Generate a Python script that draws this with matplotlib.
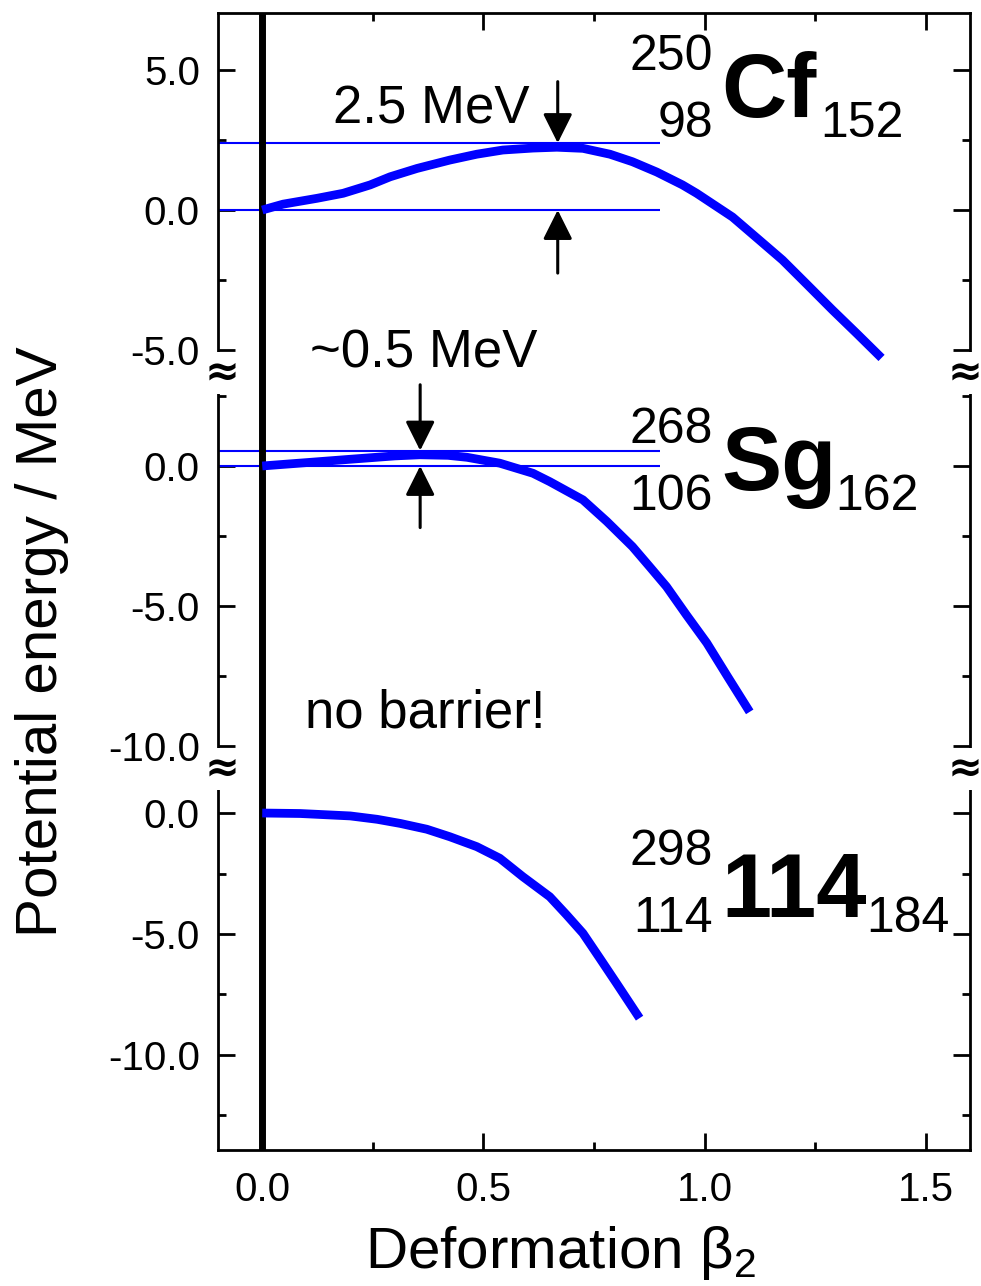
import matplotlib
matplotlib.use('Agg')
import matplotlib.pyplot as plt
from matplotlib.ticker import MultipleLocator, FormatStrFormatter

# Potential energy curves (beta_2, MeV)
beta_cf = [0.0, 0.047, 0.124, 0.183, 0.244, 0.289, 0.350, 0.424, 0.485, 0.544, 0.612, 0.666,
           0.725, 0.786, 0.837, 0.892, 0.950, 0.982, 1.063, 1.124, 1.176, 1.233, 1.289, 1.345, 1.40]
energy_cf = [0.0, 0.21, 0.42, 0.60, 0.90, 1.19, 1.49, 1.79, 2.00, 2.15, 2.22, 2.25,
             2.21, 2.00, 1.73, 1.36, 0.90, 0.60, -0.25, -1.08, -1.79, -2.69, -3.58, -4.44, -5.30]

beta_sg = [0.0, 0.10, 0.199, 0.30, 0.357, 0.42, 0.463, 0.537, 0.612, 0.65, 0.725, 0.779,
           0.837, 0.876, 0.914, 0.959, 1.005, 1.052, 1.102]
energy_sg = [0.0, 0.12, 0.24, 0.36, 0.40, 0.38, 0.31, 0.10, -0.26, -0.56, -1.21, -1.98,
             -2.88, -3.60, -4.31, -5.32, -6.32, -7.52, -8.78]

beta_114 = [0.0, 0.086, 0.199, 0.26, 0.312, 0.372, 0.424, 0.485, 0.537, 0.589, 0.650, 0.688,
            0.725, 0.763, 0.801, 0.853]
energy_114 = [0.0, -0.02, -0.12, -0.26, -0.43, -0.67, -0.98, -1.39, -1.87, -2.63, -3.46, -4.21,
              -4.97, -6.00, -7.04, -8.48]

# barrier markers: (beta at arrow, barrier height)
barrier_cf = (0.668, 2.4)
barrier_sg = (0.357, 0.55)

panel_ylims = [(-5.84, 7.06), (-10.82, 3.32), (-13.93, 1.82)]

W, H = 981, 1286
plt.rcParams['font.family'] = 'Liberation Sans'
plt.rcParams['axes.unicode_minus'] = False
plt.rcParams['mathtext.fontset'] = 'custom'
plt.rcParams['mathtext.rm'] = 'Liberation Sans'
plt.rcParams['mathtext.it'] = 'Liberation Sans'
plt.rcParams['mathtext.default'] = 'regular'


def fx(px):
    return px / W


def fy(py):
    return 1 - py / H


fig = plt.figure(figsize=(W / 100, H / 100), dpi=100)

# panel edges in pixels (top, bottom)
edges = [(13, 373), (373, 769), (769, 1150)]
left_px, right_px = 218, 970
axes = []
for (top, bot), ylim in zip(edges, panel_ylims):
    ax = fig.add_axes([fx(left_px), fy(bot), (right_px - left_px) / W, (bot - top) / H])
    ax.set_xlim(-0.1, 1.6)
    ax.set_ylim(*ylim)
    ax.xaxis.set_major_locator(MultipleLocator(0.5))
    ax.xaxis.set_minor_locator(MultipleLocator(0.25))
    ax.yaxis.set_major_locator(MultipleLocator(5))
    ax.yaxis.set_minor_locator(MultipleLocator(2.5))
    ax.yaxis.set_major_formatter(FormatStrFormatter('%.1f'))
    ax.xaxis.set_major_formatter(FormatStrFormatter('%.1f'))
    for s in ax.spines.values():
        s.set_linewidth(2.0)
    ax.tick_params(which='both', direction='in', left=True, right=True,
                   top=False, bottom=False, labelbottom=False, width=2.0,
                   labelsize=29, pad=13)
    ax.tick_params(which='major', length=12)
    ax.tick_params(which='minor', length=6)
    ax.axvline(0, color='black', lw=5, zorder=3)
    axes.append(ax)

ax_cf, ax_sg, ax_fl = axes
ax_cf.spines['bottom'].set_visible(False)
ax_cf.tick_params(which='both', top=True)
ax_sg.spines['top'].set_visible(False)
ax_sg.spines['bottom'].set_visible(False)
ax_fl.spines['top'].set_visible(False)
ax_fl.tick_params(which='both', bottom=True, labelbottom=True)
ax_fl.tick_params(axis='x', pad=15)

blue = '#0000ff'
curve = dict(color=blue, lw=6.3, solid_capstyle='butt', solid_joinstyle='round', zorder=4)
ax_cf.plot(beta_cf, energy_cf, **curve)
ax_sg.plot(beta_sg, energy_sg, **curve)
ax_fl.plot(beta_114, energy_114, **curve)

arrow = dict(arrowstyle='-|>,head_length=0.5,head_width=0.25', color='black',
             lw=2.2, shrinkA=0, shrinkB=0, mutation_scale=36)
for ax, (bx, h), top_tail, bot_tail in [(ax_cf, barrier_cf, 4.6, -2.26),
                                        (ax_sg, barrier_sg, 2.9, -2.2)]:
    ax.hlines([h, 0.0], -0.1, 0.9, color=blue, lw=1.5, zorder=2)
    ax.annotate('', xy=(bx, h), xytext=(bx, top_tail), arrowprops=arrow)
    ax.annotate('', xy=(bx, 0.0), xytext=(bx, bot_tail), arrowprops=arrow)

# axis break marks
for py in (373, 769):
    for px in (222, 965):
        fig.text(fx(px), fy(py), '≈', fontsize=30, ha='center', va='center',
                 family='DejaVu Sans', fontweight='bold',
                 bbox=dict(facecolor='white', edgecolor='none', pad=0.3))

# annotations
fig.text(fx(333), fy(123), '2.5 MeV', fontsize=38, va='baseline')
fig.text(fx(310), fy(367), '~0.5 MeV', fontsize=38, va='baseline')
fig.text(fx(305), fy(728), 'no barrier!', fontsize=38, va='baseline')

# isotope labels
isotopes = [('250', '98', 'Cf', '152', 70, 137, 117, 820),
            ('268', '106', 'Sg', '162', 443, 510, 490, 835),
            ('298', '114', '114', '184', 865, 932, 917, 866)]
for mass, z, sym, n, y_mass, y_z, y_sym, x_n in isotopes:
    fig.text(fx(713), fy(y_mass), mass, fontsize=36, ha='right', va='baseline')
    fig.text(fx(713), fy(y_z), z, fontsize=36, ha='right', va='baseline')
    fig.text(fx(721), fy(y_sym), sym, fontsize=65, fontweight='bold', ha='left', va='baseline')
    fig.text(fx(x_n), fy(y_z), n, fontsize=36, ha='left', va='baseline')

fig.text(fx(42), fy(642), 'Potential energy / MeV', fontsize=42, rotation=90,
         ha='center', va='center')
fig.text(fx(365), fy(1268), 'Deformation $β_2$', fontsize=42, ha='left', va='baseline')

fig.savefig('out.png', dpi=100)
